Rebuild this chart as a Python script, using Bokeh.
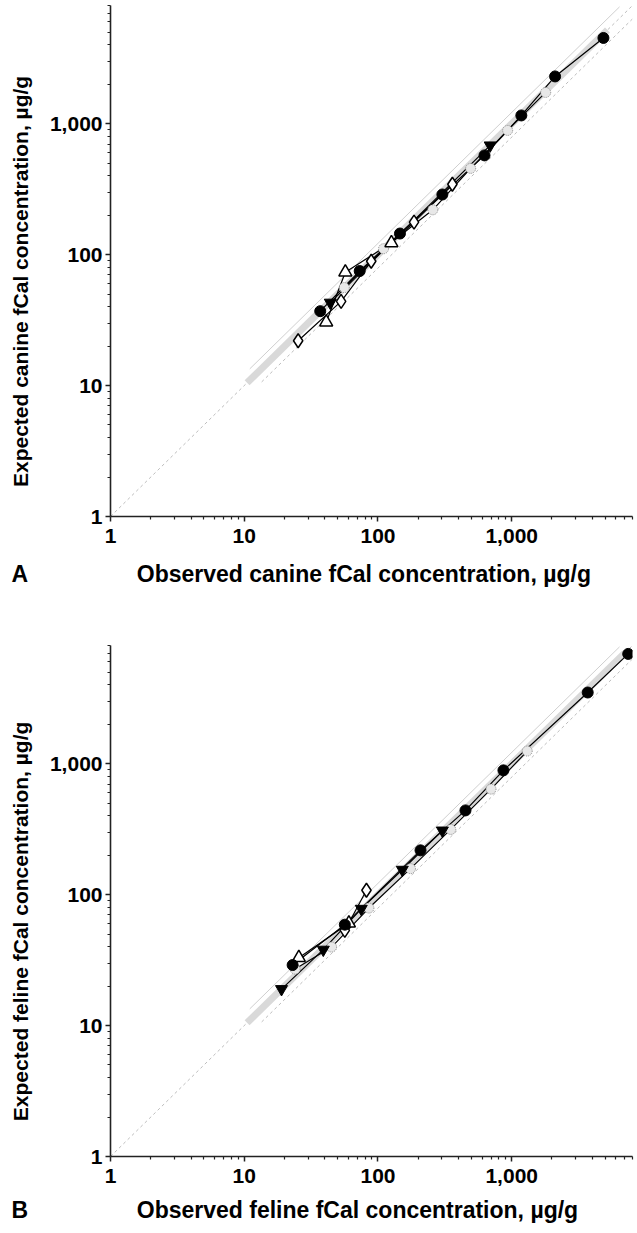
import math
from bokeh.plotting import figure
from bokeh.layouts import column
from bokeh.models import FixedTicker, NumeralTickFormatter, Range1d, Title
from bokeh.embed import file_html
from bokeh.resources import INLINE

# ---------------- data ----------------
# Panel A (canine)
a_circ_x = [37, 73, 146, 303, 626, 1180, 2110, 4850]
a_circ_y = [37, 75, 145, 288, 573, 1157, 2298, 4520]
a_tri_x = [44, 690]
a_tri_y = [43, 683]
a_otri_x = [41, 57, 126]
a_otri_y = [30.5, 73.5, 123]
a_dia_x = [25.3, 53, 89, 186, 360]
a_dia_y = [22, 44, 89, 177, 345]
a_gray_x = [56, 110, 257, 493, 932, 1794]
a_gray_y = [56, 111, 220, 456, 889, 1734]

# Panel B (feline)
b_circ_x = [23, 56.5, 208, 451, 867, 3700, 7430]
b_circ_y = [29, 59, 218, 440, 890, 3500, 6900]
b_tri_x = [19, 39, 75, 152, 303]
b_tri_y = [19, 38, 78, 155, 309]
b_otri_x = [25.6, 60.6]
b_otri_y = [33, 60.6]
b_dia_x = [56.5, 82]
b_dia_y = [53.3, 108]
b_gray_x = [24, 45, 85.5, 175, 350, 700, 1306]
b_gray_y = [27, 39.8, 79, 158, 315, 640, 1250]

# reference lines: (x start, x end, ratio y/x)
identity = (1, 8000, 1.0)
a_band = (10.5, 5200, 1.0)
b_band = (10.5, 7000, 1.0)
upper_ci = (11, 6400, 1.22)
lower_lim = (13.5, 8000, 0.79)

AX_MIN, AX_MAX = 1, 8000
major_ticks = [1, 10, 100, 1000]
minor_ticks = [m * d for d in (1, 10, 100, 1000) for m in range(2, 10) if m * d <= AX_MAX]

FONT = "Liberation Sans, Arial, sans-serif"
NB = "\u00a0"


def ref_line(p, spec, **kw):
    x0, x1, r = spec
    p.line([x0, x1], [x0 * r, x1 * r], **kw)


def make_panel(title_x, title_y, letter, band, series, height, top, bottom, title_gap):
    p = figure(width=637, height=height, x_axis_type="log", y_axis_type="log",
               x_range=Range1d(AX_MIN, AX_MAX), y_range=Range1d(AX_MIN, AX_MAX),
               output_backend="svg", toolbar_location=None,
               min_border_left=110, min_border_right=5, min_border_top=top,
               min_border_bottom=bottom)
    p.outline_line_color = None
    p.grid.visible = False
    p.background_fill_color = "white"

    # reference lines
    ref_line(p, identity, line_color="#bdbdbd", line_width=1, line_dash="3 3")
    ref_line(p, band, line_color="#d9d9d9", line_width=7)
    ref_line(p, upper_ci, line_color="#cfcfcf", line_width=1)
    ref_line(p, lower_lim, line_color="#bdbdbd", line_width=1, line_dash="3 3")

    for (xs, ys, kind) in series:
        p.line(xs, ys, line_color="black", line_width=1.2)
    for (xs, ys, kind) in series:
        if kind == "circle":
            p.scatter(xs, ys, marker="circle", size=11, fill_color="black", line_color="black")
        elif kind == "tri":
            p.scatter(xs, ys, marker="inverted_triangle", size=12, fill_color="black", line_color="black")
        elif kind == "otri":
            p.scatter(xs, ys, marker="triangle", size=13, fill_color="white", line_color="black", line_width=1.5)
        elif kind == "dia":
            p.scatter(xs, ys, marker="diamond", size=14, fill_color="white", line_color="black", line_width=1.5)
        elif kind == "gray":
            p.scatter(xs, ys, marker="circle", size=10, fill_color="#e8e8e8", line_color="#8c8c8c",
                      line_width=1, line_dash="1 1")

    for ax in (p.xaxis[0], p.yaxis[0]):
        ax.ticker = FixedTicker(ticks=major_ticks, minor_ticks=minor_ticks)
        ax.formatter = NumeralTickFormatter(format="0,0")
        ax.axis_line_width = 1.6
        ax.axis_line_color = "#222222"
        ax.major_tick_line_color = "#222222"
        ax.minor_tick_line_color = "#222222"
        ax.major_tick_line_width = 1.5
        ax.minor_tick_line_width = 1.2
        ax.major_tick_out = 5
        ax.major_tick_in = 0
        ax.minor_tick_out = 3
        ax.minor_tick_in = 0
        ax.major_label_text_font = FONT
        ax.major_label_text_font_style = "bold"
        ax.major_label_text_font_size = "21px"
        ax.major_label_text_color = "black"
        ax.axis_label_text_font = FONT
        ax.axis_label_text_font_style = "bold"
        ax.axis_label_text_font_size = "21px"
        ax.axis_label_text_color = "black"
    p.xaxis.major_label_standoff = 7
    p.yaxis.major_label_standoff = 3
    # y title: trailing no-break spaces shift the visible text down a little
    p.yaxis.axis_label = title_y + NB * 7
    p.yaxis.axis_label_standoff = 15
    # x title line, with the panel letter at its far left
    p.add_layout(Title(text=letter + NB * 17 + title_x, align="left", offset=-99,
                       standoff=title_gap, text_font=FONT, text_font_style="bold",
                       text_font_size="23px", text_color="black"), "below")
    return p


pa = make_panel("Observed canine fCal concentration, \u00b5g/g",
                "Expected canine fCal concentration, \u00b5g/g", "A", a_band,
                [(a_gray_x, a_gray_y, "gray"), (a_dia_x, a_dia_y, "dia"),
                 (a_otri_x, a_otri_y, "otri"), (a_tri_x, a_tri_y, "tri"),
                 (a_circ_x, a_circ_y, "circle")], 645, 5, 129, 27)
pb = make_panel("Observed feline fCal concentration, \u00b5g/g",
                "Expected feline fCal concentration, \u00b5g/g", "B", b_band,
                [(b_gray_x, b_gray_y, "gray"), (b_dia_x, b_dia_y, "dia"),
                 (b_otri_x, b_otri_y, "otri"), (b_tri_x, b_tri_y, "tri"),
                 (b_circ_x, b_circ_y, "circle")], 588, 0, 77, 18)

layout = column(pa, pb, spacing=0)
open("out.html", "w").write(file_html(layout, INLINE))
